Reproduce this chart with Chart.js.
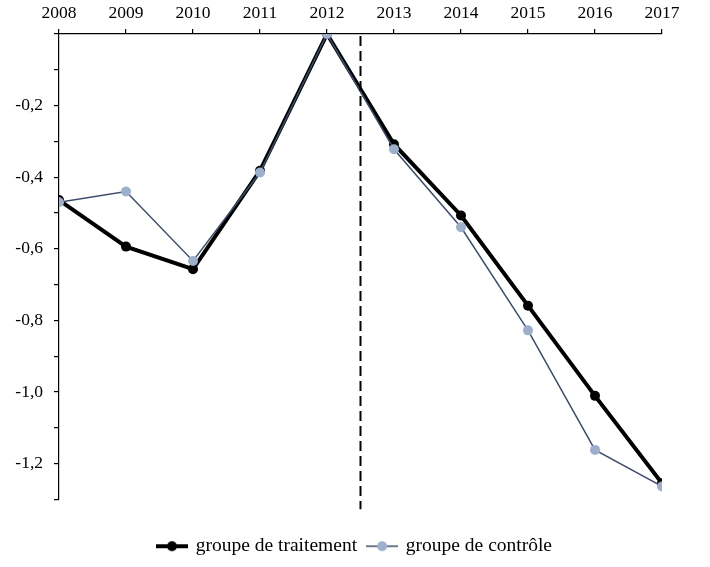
<!DOCTYPE html>
<html><head><meta charset="utf-8">
<script src="https://cdn.jsdelivr.net/npm/chart.js@4"></script>
<style>html,body{margin:0;padding:0;background:#fff}#w{width:710px;height:567px}</style>
</head><body><div id="w"><canvas id="c"></canvas></div>
<script>
const years = [2008, 2009, 2010, 2011, 2012, 2013, 2014, 2015, 2016, 2017];
const treatment = [-0.464, -0.594, -0.657, -0.382, 0.0, -0.308, -0.507, -0.759, -1.011, -1.255];
const control = [-0.470, -0.440, -0.634, -0.387, 0.0, -0.322, -0.540, -0.828, -1.162, -1.264];
const seriesNames = ['groupe de traitement', 'groupe de contrôle'];
const yTickLabels = ['-0,2', '-0,4', '-0,6', '-0,8', '-1,0', '-1,2'];
const cutYear = 2012.5;

const FONT = "'Liberation Serif', 'DejaVu Serif', serif";

function legendIcon(lineColor, lineWidth, dotColor) {
  const c = document.createElement('canvas');
  c.width = 32; c.height = 12;
  const x = c.getContext('2d');
  x.strokeStyle = lineColor; x.lineWidth = lineWidth;
  x.beginPath(); x.moveTo(0, 6); x.lineTo(32, 6); x.stroke();
  x.fillStyle = dotColor;
  x.beginPath(); x.arc(16, 6, 5, 0, Math.PI * 2); x.fill();
  return c;
}
const icons = [legendIcon('#000', 4, '#000'), legendIcon('#3d4d6a', 1.5, '#9eafcc')];

const cutLine = {
  id: 'cutLine',
  afterDatasetsDraw(chart) {
    const ctx = chart.ctx;
    const x = chart.scales.x.getPixelForValue(cutYear);
    const a = chart.chartArea;
    ctx.save();
    ctx.strokeStyle = '#000';
    ctx.lineWidth = 2;
    ctx.setLineDash([10, 5]);
    ctx.beginPath();
    ctx.moveTo(x, a.top + 2);
    ctx.lineTo(x, a.bottom + 10);
    ctx.stroke();
    ctx.restore();
  }
};

new Chart(document.getElementById('c'), {
  type: 'line',
  data: {
    datasets: [
      {
        label: seriesNames[0],
        data: years.map((y, i) => ({x: y, y: treatment[i]})),
        borderColor: '#000', backgroundColor: '#000',
        borderWidth: 4, pointRadius: 5, pointBackgroundColor: '#000', pointBorderWidth: 0,
        tension: 0, order: 2
      },
      {
        label: seriesNames[1],
        data: years.map((y, i) => ({x: y, y: control[i]})),
        borderColor: '#3d4d6a', backgroundColor: '#9eafcc',
        borderWidth: 1.5, pointRadius: 5, pointBackgroundColor: '#9eafcc', pointBorderWidth: 0,
        tension: 0, order: 1
      }
    ]
  },
  options: {
    responsive: true, maintainAspectRatio: false, animation: false,
    layout: {padding: {left: 0, right: 0, top: 0, bottom: 1}},
    plugins: {
      tooltip: {enabled: false},
      legend: {
        position: 'bottom',
        title: {display: true, text: '', font: {size: 1}, padding: {top: 0, bottom: 25}},
        labels: {
          usePointStyle: true, pointStyleWidth: 28,
          font: {family: FONT, size: 19.5}, color: '#000', padding: 11,
          generateLabels: (chart) => chart.data.datasets.map((d, i) => ({
            text: d.label, pointStyle: icons[i], datasetIndex: i,
            fillStyle: 'transparent', strokeStyle: 'transparent', lineWidth: 0, fontColor: '#000'
          }))
        }
      }
    },
    scales: {
      x: {
        type: 'linear', position: 'top', min: 2008, max: 2017,
        afterFit: (s) => { s.height = 34; },
        ticks: {stepSize: 1, callback: (v) => String(v), font: {family: FONT, size: 17.5}, color: '#000', padding: 5},
        grid: {drawOnChartArea: false, drawTicks: true, tickLength: 5, color: '#000', lineWidth: 1.2},
        border: {display: true, color: '#000', width: 1.2}
      },
      y: {
        min: -1.3, max: 0,
        afterFit: (s) => { s.width = 59; },
        afterBuildTicks: (s) => {
          const t = [];
          for (let k = 0; k <= 13; k++) t.push({value: -k / 10});
          s.ticks = t;
        },
        ticks: {
          autoSkip: false,
          callback: (v) => {
            const k = Math.round(-v * 10);
            if (k > 0 && k % 2 === 0) return yTickLabels[k / 2 - 1];
            return '';
          },
          font: {family: FONT, size: 17.5}, color: '#000', padding: 11
        },
        grid: {drawOnChartArea: false, drawTicks: true, tickLength: 5, color: '#000', lineWidth: 1.2},
        border: {display: true, color: '#000', width: 1.2}
      },
      yRight: {
        type: 'linear', position: 'right', display: true, min: -1.3, max: 0,
        afterFit: (s) => { s.width = 48; },
        ticks: {display: false},
        grid: {display: false, drawTicks: false},
        border: {display: false}
      }
    }
  },
  plugins: [cutLine]
});
</script></body></html>
